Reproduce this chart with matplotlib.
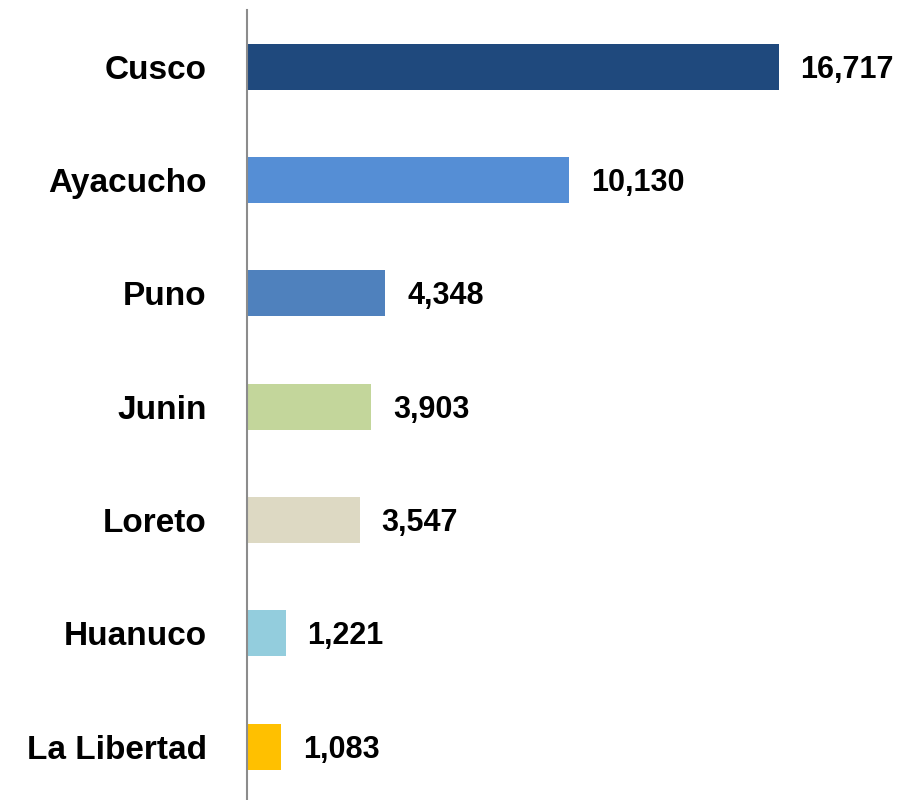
import matplotlib.pyplot as plt

regions = ['Cusco', 'Ayacucho', 'Puno', 'Junin', 'Loreto', 'Huanuco', 'La Libertad']
values = [16717, 10130, 4348, 3903, 3547, 1221, 1083]
colors = ['#1F497D', '#558ED5', '#4F81BD', '#C3D69B', '#DDD9C3', '#93CDDD', '#FFC000']

plt.rcParams['font.family'] = ['Liberation Sans', 'DejaVu Sans']

fig = plt.figure(figsize=(9.06, 8.0), dpi=100)
ax = fig.add_axes([247 / 906, 0, 1 - 247 / 906, 790 / 800])

pos = list(range(len(regions)))
ax.barh(pos, values, height=0.405, color=colors)
ax.set_ylim(len(regions) - 1 + 0.47, -0.5)
ax.set_xlim(0, 20709)

# value labels, baseline shifted so the digits sit centred on the bar
for p, v in zip(pos, values):
    ax.text(v + 680, p + 0.097, f'{v:,}', va='baseline', ha='left',
            fontsize=22, fontweight='bold')

ax.set_yticks(pos)
ax.set_yticklabels(regions, fontsize=24, fontweight='bold')
ax.tick_params(axis='y', length=0, pad=29)
ax.set_xticks([])
for s in ['top', 'right', 'bottom']:
    ax.spines[s].set_visible(False)
ax.spines['left'].set_color('#8c8c8c')
ax.spines['left'].set_linewidth(1.5)

fig.savefig('out.png', dpi=100)
